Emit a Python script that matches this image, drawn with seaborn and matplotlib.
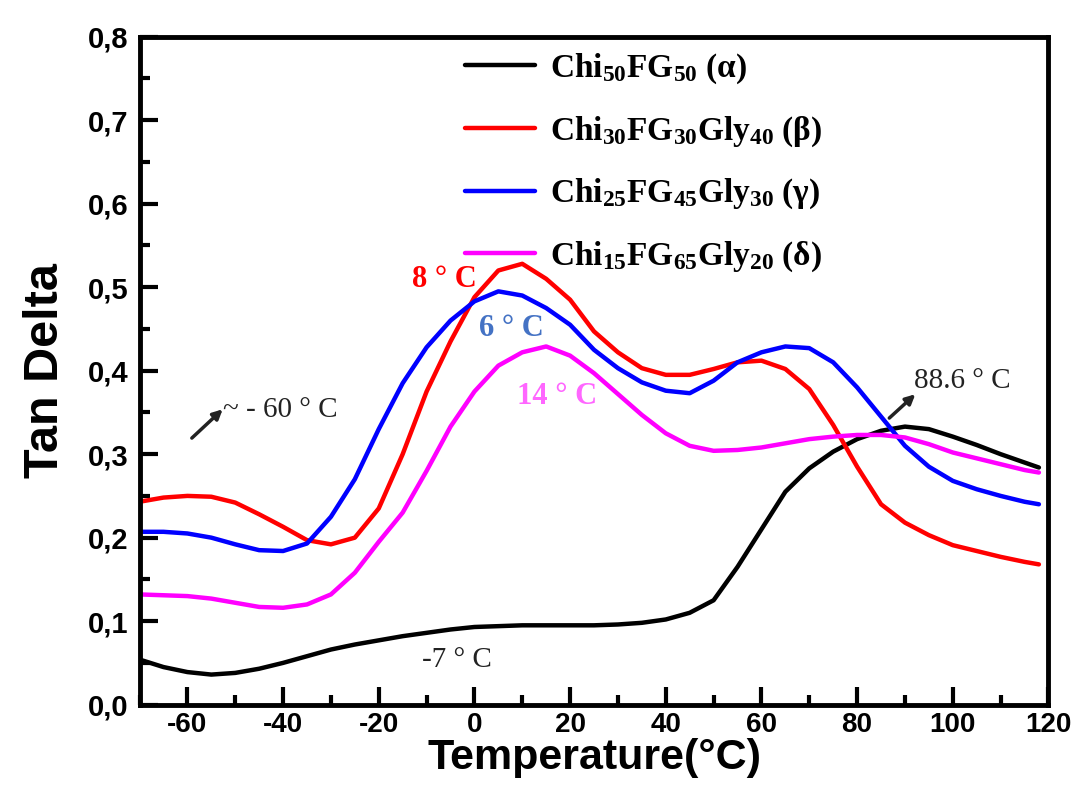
import matplotlib
matplotlib.use("Agg")
import matplotlib.pyplot as plt
from matplotlib.ticker import MultipleLocator, FuncFormatter
import seaborn as sns
import pandas as pd

# temperature grid (°C) and tan delta readings for each film
temp = [-70, -65, -60, -55, -50, -45, -40, -35, -30, -25, -20, -15, -10, -5,
        0, 5, 10, 15, 20, 25, 30, 35, 40, 45, 50, 55, 60, 65, 70, 75, 80, 85,
        90, 95, 100, 105, 110, 115, 118]

alpha = [0.054, 0.045, 0.039, 0.036, 0.038, 0.043, 0.050, 0.058, 0.066, 0.072,
         0.077, 0.082, 0.086, 0.090, 0.093, 0.094, 0.095, 0.095, 0.095, 0.095,
         0.096, 0.098, 0.102, 0.110, 0.125, 0.165, 0.210, 0.255, 0.283, 0.303,
         0.318, 0.328, 0.333, 0.330, 0.321, 0.311, 0.300, 0.290, 0.284]

beta = [0.243, 0.248, 0.250, 0.249, 0.242, 0.228, 0.213, 0.197, 0.192, 0.200,
        0.235, 0.300, 0.375, 0.435, 0.488, 0.520, 0.528, 0.510, 0.485, 0.447,
        0.422, 0.403, 0.395, 0.395, 0.402, 0.410, 0.412, 0.402, 0.378, 0.335,
        0.285, 0.240, 0.218, 0.203, 0.191, 0.184, 0.177, 0.171, 0.168]

gamma = [0.207, 0.207, 0.205, 0.200, 0.192, 0.185, 0.184, 0.193, 0.225, 0.270,
         0.330, 0.385, 0.428, 0.460, 0.483, 0.495, 0.490, 0.475, 0.455, 0.425,
         0.403, 0.386, 0.376, 0.373, 0.388, 0.410, 0.422, 0.429, 0.427, 0.410,
         0.380, 0.345, 0.310, 0.285, 0.268, 0.258, 0.250, 0.243, 0.240]

delta = [0.132, 0.131, 0.130, 0.127, 0.122, 0.117, 0.116, 0.120, 0.132, 0.158,
         0.195, 0.230, 0.280, 0.333, 0.375, 0.406, 0.422, 0.429, 0.418, 0.397,
         0.372, 0.347, 0.325, 0.310, 0.304, 0.305, 0.308, 0.313, 0.318, 0.321,
         0.323, 0.323, 0.320, 0.312, 0.302, 0.295, 0.288, 0.281, 0.278]

labels = [r'Chi$_{50}$FG$_{50}$ (α)',
          r'Chi$_{30}$FG$_{30}$Gly$_{40}$ (β)',
          r'Chi$_{25}$FG$_{45}$Gly$_{30}$ (γ)',
          r'Chi$_{15}$FG$_{65}$Gly$_{20}$ (δ)']
colors = ['black', '#ff0000', '#0000ff', '#ff00ff']

df = pd.concat([pd.DataFrame({'T': temp, 'tan': v, 'sample': lab})
                for v, lab in zip([alpha, beta, gamma, delta], labels)])

sns.set_style('ticks')
plt.rcParams['font.family'] = ['Liberation Sans', 'DejaVu Sans']
plt.rcParams['mathtext.fontset'] = 'custom'
plt.rcParams['mathtext.rm'] = 'Liberation Serif:bold'
plt.rcParams['mathtext.it'] = 'Liberation Serif:bold'
plt.rcParams['mathtext.bf'] = 'Liberation Serif:bold'
plt.rcParams['axes.unicode_minus'] = False
for k in ['axes.edgecolor', 'xtick.color', 'ytick.color', 'text.color',
          'axes.labelcolor']:
    plt.rcParams[k] = 'black'

fig = plt.figure(figsize=(10.82, 7.98), dpi=100)
ax = fig.add_axes([0.129, 0.117, 0.840, 0.837])

sns.lineplot(data=df, x='T', y='tan', hue='sample', palette=colors,
             linewidth=3.2, ax=ax, legend=False)
for ln in ax.lines:
    ln.set_solid_joinstyle('round')

ax.set_xlim(-70, 120)
ax.set_ylim(0, 0.8)
ax.xaxis.set_major_locator(MultipleLocator(20))
ax.xaxis.set_minor_locator(MultipleLocator(10))
ax.yaxis.set_major_locator(MultipleLocator(0.1))
ax.yaxis.set_minor_locator(MultipleLocator(0.05))
ax.yaxis.set_major_formatter(FuncFormatter(lambda v, p: f'{v:.1f}'.replace('.', ',')))
ax.tick_params(which='major', direction='in', length=13, width=3, labelsize=21, pad=8)
ax.tick_params(axis='x', which='major', labelsize=20, pad=5)
ax.tick_params(which='minor', direction='in', length=7, width=3)
for lab in ax.get_xticklabels() + ax.get_yticklabels():
    lab.set_fontweight('bold')
for sp in ax.spines.values():
    sp.set_linewidth(3.5)

ax.set_xlabel('Temperature(°C)', fontsize=31, fontweight='bold', labelpad=0)
ax.set_ylabel('Tan Delta', fontsize=35, fontweight='bold', labelpad=14)

# legend
handles = [plt.Line2D([], [], color=c, linewidth=3.2) for c in colors]
leg = ax.legend(handles, labels, loc='upper left', bbox_to_anchor=(0.358, 0.978),
                frameon=False, borderpad=0, borderaxespad=0,
                handlelength=2.1, handletextpad=0.45, labelspacing=0.85,
                prop={'family': 'Liberation Serif', 'weight': 'bold', 'size': 24})

# peak annotations
serif = 'Liberation Serif'
ax.text(-6.2, 0.509, '8 ° C', color='#ff0000', fontsize=22, fontweight='bold',
        family=serif, ha='center', va='center')
ax.text(7.8, 0.451, '6 ° C', color='#4472c4', fontsize=22, fontweight='bold',
        family=serif, ha='center', va='center')
ax.text(17.2, 0.369, '14 ° C', color='#ff66ff', fontsize=22, fontweight='bold',
        family=serif, ha='center', va='center')
ax.text(-3.7, 0.054, '-7 ° C', color='#222222', fontsize=21,
        family=serif, ha='center', va='center')
ax.text(-52.5, 0.353, '~ - 60 ° C', color='#222222', fontsize=21,
        family=serif, ha='left', va='center')
ax.text(91.8, 0.388, '88.6 ° C', color='#222222', fontsize=21,
        family=serif, ha='left', va='center')
ax.annotate('', xy=(-52.2, 0.356), xytext=(-59.5, 0.317),
            arrowprops=dict(arrowstyle='-|>', color='#222222', lw=2.5,
                            mutation_scale=14))
ax.annotate('', xy=(92.6, 0.374), xytext=(86.3, 0.341),
            arrowprops=dict(arrowstyle='-|>', color='#222222', lw=2.5,
                            mutation_scale=14))

fig.savefig('out.png', dpi=100)
